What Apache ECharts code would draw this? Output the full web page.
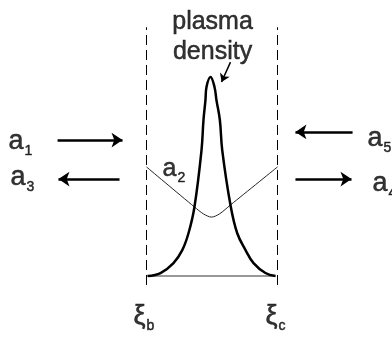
<!DOCTYPE html>
<html>
<head>
<meta charset="utf-8">
<script src="https://cdn.jsdelivr.net/npm/echarts@6/dist/echarts.min.js"></script>
<style>html,body{margin:0;padding:0;background:#fff}#chart{width:392px;height:337px}</style>
</head>
<body>
<div id="chart"></div>
<script>
// plasma region edges (xi_b = 0, xi_c = 1)
const xiBounds = [0, 1]
const dashRange = [-0.045, 1.25]

// plasma density profile, normalised to the peak
const densityXi = [0.008, 0.107, 0.206, 0.273, 0.321, 0.366, 0.42, 0.435, 0.45, 0.458, 0.489, 0.519, 0.534, 0.56, 0.578, 0.641, 0.692, 0.756, 0.817, 0.908, 0.985]
const densityVal = [0, 0.015, 0.065, 0.13, 0.216, 0.347, 0.633, 0.784, 0.884, 0.95, 1.0, 0.95, 0.884, 0.784, 0.633, 0.357, 0.216, 0.13, 0.065, 0.015, 0]

// a2 amplitude inside the plasma
const a2Xi = [0, 0.366, 0.435, 0.496, 0.557, 0.641, 1]
const a2Val = [0.548, 0.347, 0.312, 0.296, 0.312, 0.357, 0.548]

// waves: from xi, to xi, level
const arrowFrom = [-0.679, -0.206, 1.573, 1.137]
const arrowTo = [-0.183, -0.672, 1.137, 1.565]
const arrowLevel = [0.683, 0.487, 0.724, 0.487]

// labels
const labelMain = ['a', 'a', 'a', 'a', 'a', 'ξ', 'ξ']
const labelSub = ['1', '3', '5', '4', '2', 'b', 'c']
const labelXi = [-1.053, -1.038, 1.687, 1.725, 0.122, -0.099, 0.908]
const labelY = [0.668, 0.485, 0.681, 0.455, 0.528, -0.213, -0.213]

const noteText = 'plasma\ndensity'
const notePos = [0.504, 1.2]
const noteArrow = [[0.641, 1.075], [0.573, 0.975]]

var myChart = echarts.init(document.getElementById('chart'))

const font = 'Liberation Sans, Arial, sans-serif'
const ink = { color: '#000', textBorderColor: '#000', textBorderWidth: 0.5, fontFamily: font }
const rich = {
	m: Object.assign({ fontSize: 27, verticalAlign: 'top', lineHeight: 30 }, ink),
	n: Object.assign({ fontSize: 25, verticalAlign: 'top', lineHeight: 28 }, ink),
	s: Object.assign({ fontSize: 14, verticalAlign: 'bottom', lineHeight: 14, padding: [21, 0, 0, 1] }, ink)
}

var labelData = labelMain.map((m, i) => ({
	value: [labelXi[i], labelY[i]],
	label: { formatter: (m === 'a' && labelSub[i] === '2' ? '{n|' : '{m|') + m + '}{s|' + labelSub[i] + '}' }
}))

var option = {
	animation: false,
	grid: { left: 1.09, width: 381.21, top: 7.35, height: 328.35 },
	xAxis: { type: 'value', min: -1.11, max: 1.8, show: false },
	yAxis: { type: 'value', min: -0.3, max: 1.35, show: false },
	series: [
		{
			type: 'line', data: [[xiBounds[0], dashRange[0]], [xiBounds[0], dashRange[1]]],
			symbol: 'none', lineStyle: { color: '#000', width: 1, type: [10, 5] }, silent: true
		},
		{
			type: 'line', data: [[xiBounds[1], dashRange[0]], [xiBounds[1], dashRange[1]]],
			symbol: 'none', lineStyle: { color: '#000', width: 1, type: [10, 5] }, silent: true
		},
		{
			type: 'line', data: [[densityXi[0], 0], [densityXi[densityXi.length - 1], 0]],
			symbol: 'none', lineStyle: { color: '#999', width: 2 }, silent: true
		},
		{
			type: 'line', data: a2Xi.map((x, i) => [x, a2Val[i]]), smooth: 0.3,
			symbol: 'none', lineStyle: { color: '#222', width: 1 }, silent: true
		},
		{
			type: 'line', data: densityXi.map((x, i) => [x, densityVal[i]]), smooth: 0.4,
			symbol: 'none', lineStyle: { color: '#000', width: 2.5 }, silent: true
		},
		{
			type: 'line', data: [], silent: true,
			markLine: {
				silent: true, symbol: ['none', 'arrow'], symbolSize: 11,
				label: { show: false },
				lineStyle: { color: '#000', width: 2.5, type: 'solid' },
				data: arrowFrom.map((f, i) => [{ coord: [f, arrowLevel[i]] }, { coord: [arrowTo[i], arrowLevel[i]] }])
					.concat([[{ coord: noteArrow[0], lineStyle: { width: 1.5 }, symbolSize: 8 }, { coord: noteArrow[1], symbolSize: 8 }]])
			}
		},
		{
			type: 'scatter', symbolSize: 0, silent: true, clip: false, data: labelData,
			label: { show: true, position: [0, 0], align: 'left', verticalAlign: 'middle', rich: rich }
		},
		{
			type: 'scatter', symbolSize: 0, silent: true, data: [notePos],
			label: Object.assign({
				show: true, position: [0, 0], align: 'center', verticalAlign: 'middle',
				formatter: noteText, fontSize: 25, lineHeight: 30
			}, ink)
		}
	]
}
myChart.setOption(option)
</script>
</body>
</html>
